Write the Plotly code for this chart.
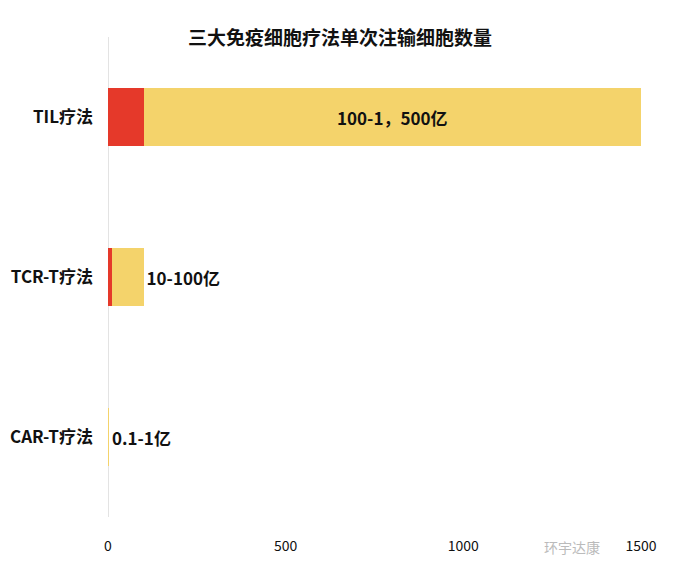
import plotly.graph_objects as go

# 三种疗法（从下到上）
categorias = ["CAR-T疗法", "TCR-T疗法", "TIL疗法"]
minimo = [0.1, 10, 100]          # 单次注输下限（亿）
maximo = [1, 100, 1500]          # 单次注输上限（亿）
etiquetas = ["0.1-1亿", "10-100亿", "100-1，500亿"]
rango = [mx - mn for mn, mx in zip(minimo, maximo)]

ticks = [0, 500, 1000, 1500]

fuente = "Noto Sans CJK SC"

fig = go.Figure()
fig.add_trace(go.Bar(
    y=categorias, x=minimo, orientation="h",
    marker=dict(color="#E5392A", line=dict(width=0)),
    name="下限", hoverinfo="x+y",
))
fig.add_trace(go.Bar(
    y=categorias, x=rango, orientation="h",
    marker=dict(color="#F4D36B", line=dict(width=0)),
    name="范围",
    text=etiquetas,
    textposition=["outside", "outside", "inside"],
    insidetextanchor="middle",
    textfont=dict(family=fuente, size=17, color="#111111", weight="bold"),
    cliponaxis=False,
))

fig.update_layout(
    barmode="stack",
    bargap=0.64,
    width=679, height=564,
    margin=dict(l=100, r=46, t=29, b=55),
    paper_bgcolor="white", plot_bgcolor="white",
    showlegend=False,
    title=dict(
        text="<b>三大免疫细胞疗法单次注输细胞数量</b>",
        x=0.489, xanchor="center", y=0.947, yanchor="middle",
        font=dict(family=fuente, size=19, color="#111111"),
    ),
    font=dict(family=fuente, color="#111111"),
    uniformtext=dict(mode=False),
)
fig.update_xaxes(
    range=[0, 1500], tickvals=ticks, ticktext=[str(t) for t in ticks],
    showgrid=False, zeroline=True, zerolinecolor="#E3E3E3", zerolinewidth=1,
    showline=False, ticks="", ticklen=0, automargin=False,
    ticklabelstandoff=19,
    tickfont=dict(family=fuente, size=14, color="#111111"),
)
fig.update_yaxes(
    showgrid=False, showline=False, ticks="", automargin=False,
    tickfont=dict(family=fuente, size=17, color="#111111", weight="bold"),
    ticklabelstandoff=14,
)
fig.add_annotation(
    text="环宇达康", x=1390, y=-0.062, xref="x", yref="paper",
    xanchor="right", yanchor="middle", showarrow=False,
    font=dict(family=fuente, size=14, color="#BBBBBB"),
)

fig.write_html("out.html")
